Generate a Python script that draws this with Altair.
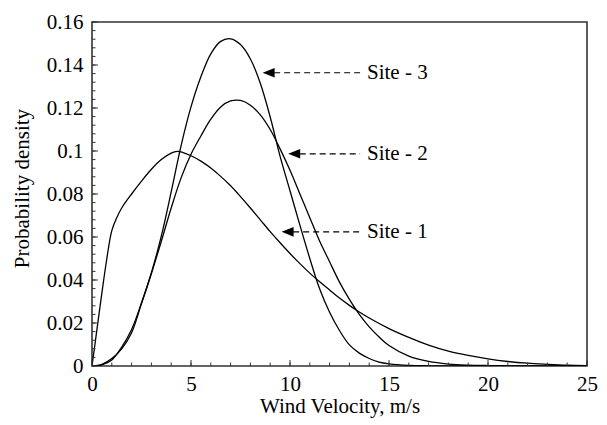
import altair as alt
import pandas as pd

# ---- data ----
site1_v = [0, 0.25, 0.5, 0.75, 1, 1.25, 1.5, 2, 2.5, 3, 3.5, 4, 4.3, 4.6, 5, 5.5, 6, 6.5, 7, 7.5,
           8, 8.5, 9, 9.5, 10, 10.5, 11, 11.5, 12, 12.5, 13, 13.5, 14, 15, 16, 17, 18, 19, 20, 21,
           22, 23, 24, 25]
site1_p = [0, 0.017, 0.034, 0.050, 0.063, 0.069, 0.0735, 0.080, 0.086, 0.0915, 0.096, 0.0990, 0.0998,
           0.0993, 0.0978, 0.0953, 0.0921, 0.0882, 0.0838, 0.0788, 0.0735, 0.068, 0.0625, 0.0573,
           0.0523, 0.0476, 0.0432, 0.0392, 0.0354, 0.0316, 0.0282, 0.0251, 0.0223, 0.0174, 0.0133,
           0.0097, 0.0069, 0.0049, 0.0033, 0.0021, 0.0013, 0.0008, 0.0004, 0.0002]

site2_v = [0, 0.5, 1, 1.5, 2, 2.5, 3, 3.5, 4, 4.5, 5, 5.5, 6, 6.5, 7, 7.5, 8, 8.5, 9, 9.5, 10, 10.5,
           11, 11.5, 12, 12.5, 13, 13.5, 14, 14.5, 15, 16, 17, 18, 19, 20, 21, 22, 25]
site2_p = [0, 0.0008, 0.0035, 0.008, 0.0155, 0.029, 0.043, 0.058, 0.0735, 0.0875, 0.0985, 0.107,
           0.1148, 0.1205, 0.1233, 0.1235, 0.1213, 0.1168, 0.110, 0.101, 0.091, 0.080, 0.069, 0.058,
           0.0485, 0.039, 0.031, 0.024, 0.0182, 0.0135, 0.0095, 0.0046, 0.0021, 0.0009, 0.0004,
           0.0002, 0.0001, 0, 0]

site3_v = [0, 0.5, 1, 1.5, 2, 2.5, 3, 3.5, 4, 4.5, 5, 5.5, 6, 6.5, 7, 7.5, 8, 8.5, 9, 9.5, 10, 10.5,
           11, 11.5, 12, 12.5, 13, 13.5, 14, 14.5, 15, 16, 17, 18, 25]
site3_p = [0, 0.0005, 0.0028, 0.0088, 0.017, 0.0294, 0.0434, 0.0604, 0.081, 0.1025, 0.1205, 0.1345,
           0.1452, 0.151, 0.1522, 0.1495, 0.1428, 0.1315, 0.1158, 0.0975, 0.0815, 0.0655, 0.050,
           0.0358, 0.025, 0.0165, 0.0098, 0.006, 0.0035, 0.0018, 0.001, 0.0003, 0.0001, 0, 0]

ann_label = ["Site - 3", "Site - 2", "Site - 1"]
ann_tip_v = [8.62, 9.91, 9.58]
ann_tip_p = [0.1364, 0.0987, 0.0624]
ann_end_v = 13.54
ann_text_v = 13.89

x_major = [0, 5, 10, 15, 20, 25]
x_minor = list(range(0, 26))
y_major = [0, 0.02, 0.04, 0.06, 0.08, 0.1, 0.12, 0.14, 0.16]
y_minor = [round(i * 0.004, 3) for i in range(41)]

# ---- tables ----
curves = pd.concat([
    pd.DataFrame({"v": site1_v, "p": site1_p, "site": "Site 1"}),
    pd.DataFrame({"v": site2_v, "p": site2_p, "site": "Site 2"}),
    pd.DataFrame({"v": site3_v, "p": site3_p, "site": "Site 3"}),
])
ann = pd.DataFrame({"label": ann_label, "tip_v": ann_tip_v, "p": ann_tip_p})
ann["head_v"] = ann["tip_v"] + 0.30
ann["start_v"] = ann["tip_v"] + 0.58
ann["end_v"] = ann_end_v
ann["text_v"] = ann_text_v

W, H = 495, 344
FONT = "Liberation Serif"
FS = 21
xs = alt.Scale(domain=[0, 25], nice=False, zero=False)
ys = alt.Scale(domain=[0, 0.16], nice=False)

x_axis = alt.Axis(
    values=x_major, ticks=False, tickSize=0, domain=False, grid=False, labelFlush=False,
    labelFont=FONT, labelFontSize=FS, labelColor="black", labelPadding=7,
    title="Wind Velocity, m/s", titleFont=FONT, titleFontSize=FS, titleFontWeight="normal",
    titleColor="black", titleY=46, titleBaseline="alphabetic")
y_axis = alt.Axis(
    values=y_major, format="~g", ticks=False, tickSize=0, domain=False, grid=False,
    labelFont=FONT, labelFontSize=FS, labelColor="black", labelPadding=9,
    title="Probability density", titleFont=FONT, titleFontSize=FS, titleFontWeight="normal",
    titleColor="black", titleX=-60, titleY=166, titleBaseline="bottom", titleAlign="center")


def X(field):
    return alt.X(field, scale=xs, axis=x_axis)


def Y(field):
    return alt.Y(field, scale=ys, axis=y_axis)


lines = alt.Chart(curves).mark_line(
    color="black", strokeWidth=1.3, interpolate="catmull-rom", clip=True
).encode(x=X("v:Q"), y=Y("p:Q"), detail="site:N")

ymaj = alt.Chart(pd.DataFrame({"p": y_major})).mark_rule(color="#333", strokeWidth=1).encode(
    y=Y("p:Q"), x=alt.value(0), x2=alt.value(6))
ymin = alt.Chart(pd.DataFrame({"p": y_minor})).mark_rule(color="#333", strokeWidth=1).encode(
    y=Y("p:Q"), x=alt.value(0), x2=alt.value(3.5))
xmaj = alt.Chart(pd.DataFrame({"v": x_major})).mark_rule(color="#333", strokeWidth=1).encode(
    x=X("v:Q"), y=alt.value(H), y2=alt.value(H - 6))
xmin = alt.Chart(pd.DataFrame({"v": x_minor})).mark_rule(color="#333", strokeWidth=1).encode(
    x=X("v:Q"), y=alt.value(H), y2=alt.value(H - 3.5))

dash = alt.Chart(ann).mark_rule(color="black", strokeWidth=1.2, strokeDash=[6, 4]).encode(
    x=X("start_v:Q"), x2="end_v:Q", y=Y("p:Q"))
heads = alt.Chart(ann).mark_point(
    shape="M-1,0L1,-0.8L1,0.8Z", filled=True, color="black", size=144, opacity=1, strokeWidth=0
).encode(x=X("head_v:Q"), y=Y("p:Q"))
labels = alt.Chart(ann).mark_text(
    align="left", baseline="middle", font=FONT, fontSize=FS, color="black"
).encode(x=X("text_v:Q"), y=Y("p:Q"), text="label:N")

chart = alt.layer(lines, ymaj, ymin, xmaj, xmin, dash, heads, labels).properties(
    width=W, height=H,
    padding={"left": 92, "top": 22, "right": 20, "bottom": 59},
    autosize=alt.AutoSizeParams(type="none"),
    background="white",
).configure_view(stroke="#333", strokeWidth=1.6)

chart.save("out.html", embed_options={"renderer": "svg", "actions": False})
